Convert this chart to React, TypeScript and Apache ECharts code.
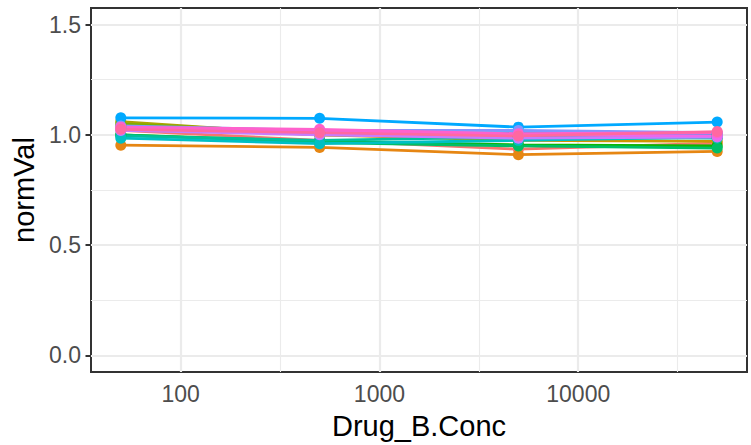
import { useEffect, useRef } from 'react';
import * as echarts from 'echarts';

// Drug_B concentrations (x, log10 scale)
const concentrations = [50, 500, 5000, 50000];

// ggplot hue palette, 16 groups
const groupNames = ['1','2','3','4','5','6','7','8','9','10','11','12','13','14','15','16'];
const groupColors = [
  '#F8766D', '#E68613', '#CD9600', '#ABA300', '#7CAE00', '#0CB702', '#00BE67', '#00C19A',
  '#00BFC4', '#00B8E7', '#00A9FF', '#8494FF', '#C77CFF', '#ED68ED', '#FF61CC', '#FF68A1',
];

// normVal per group at each concentration
const g01 = [1.020, 0.975, 0.935, 0.962];
const g02 = [0.953, 0.943, 0.910, 0.925];
const g03 = [1.040, 1.000, 0.975, 0.970];
const g04 = [1.060, 1.000, 0.990, 1.000];
const g05 = [1.050, 1.010, 0.980, 0.990];
const g06 = [1.000, 0.970, 0.955, 0.950];
const g07 = [1.000, 0.965, 0.950, 0.940];
const g08 = [0.995, 0.975, 0.990, 0.985];
const g09 = [0.985, 0.960, 0.975, 0.990];
const g10 = [1.030, 1.005, 1.010, 1.005];
const g11 = [1.077, 1.075, 1.035, 1.058];
const g12 = [1.040, 1.020, 1.020, 1.010];
const g13 = [1.020, 1.000, 0.985, 0.990];
const g14 = [1.030, 1.015, 1.000, 0.995];
const g15 = [1.035, 1.025, 1.005, 1.010];
const g16 = [1.025, 1.010, 0.995, 1.015];
const groupValues = [g01, g02, g03, g04, g05, g06, g07, g08, g09, g10, g11, g12, g13, g14, g15, g16];

// axis breaks
const xBreaks = [100, 1000, 10000];
const xMinorBreaks = [316.23, 3162.3, 31622.8];
const yBreaks = [0, 0.5, 1.0, 1.5];
const yMinorBreaks = [0.25, 0.75, 1.25];
const yLimits = [0, 1.5];

export default function App() {
  const ref = useRef<HTMLDivElement>(null);
  useEffect(() => {
    const chart = echarts.init(ref.current!, null, { renderer: 'svg' });
    const lx = (v: number) => Math.log10(v);
    const xlo = lx(concentrations[0]);
    const xhi = lx(concentrations[concentrations.length - 1]);
    const xpad = (xhi - xlo) * 0.05;
    const ypad = (yLimits[1] - yLimits[0]) * 0.05;
    const font = 'Liberation Sans, Arial, sans-serif';
    const gridMajor = { color: '#EBEBEB', width: 2.2, type: 'solid' as const };
    const gridMinor = { color: '#EBEBEB', width: 1.1, type: 'solid' as const };

    const gridLines: any[] = [
      ...xMinorBreaks.map((v) => ({ xAxis: lx(v), lineStyle: gridMinor })),
      ...yMinorBreaks.map((v) => ({ yAxis: v, lineStyle: gridMinor })),
      ...xBreaks.map((v) => ({ xAxis: lx(v), lineStyle: gridMajor })),
      ...yBreaks.map((v) => ({ yAxis: v, lineStyle: gridMajor })),
    ];

    const lineSeries = groupValues.map((vals, i) => ({
      name: groupNames[i],
      type: 'line',
      data: concentrations.map((c, j) => [lx(c), vals[j]]),
      showSymbol: false,
      lineStyle: { color: groupColors[i], width: 2.8 },
      itemStyle: { color: groupColors[i] },
      z: 2,
      silent: true,
    }));
    const pointSeries = groupValues.map((vals, i) => ({
      name: groupNames[i],
      type: 'scatter',
      data: concentrations.map((c, j) => [lx(c), vals[j]]),
      symbolSize: 11,
      itemStyle: { color: groupColors[i], opacity: 1 },
      z: 3,
      silent: true,
    }));

    chart.setOption({
      animation: false,
      backgroundColor: '#FFFFFF',
      textStyle: { fontFamily: font },
      grid: {
        left: 91, right: 4, top: 8, bottom: 73,
        show: true, backgroundColor: '#FFFFFF', borderColor: '#333333', borderWidth: 2,
      },
      xAxis: {
        type: 'value',
        min: xlo - xpad,
        max: xhi + xpad,
        name: 'Drug_B.Conc',
        nameLocation: 'middle',
        nameGap: 39,
        nameTextStyle: { color: '#000000', fontSize: 29, fontFamily: font },
        axisLine: { show: false },
        axisTick: { show: true, length: 5.5, customValues: xBreaks.map(lx), lineStyle: { color: '#333333', width: 2 } },
        axisLabel: {
          customValues: xBreaks.map(lx),
          formatter: (v: number) => String(Math.round(Math.pow(10, v))),
          color: '#4D4D4D', fontSize: 23, margin: 10, fontFamily: font,
        },
        splitLine: { show: false },
      },
      yAxis: {
        type: 'value',
        min: yLimits[0] - ypad,
        max: yLimits[1] + ypad,
        name: 'normVal',
        nameLocation: 'middle',
        nameGap: 53,
        nameTextStyle: { color: '#000000', fontSize: 29, fontFamily: font },
        axisLine: { show: false },
        axisTick: { show: true, length: 5.5, customValues: yBreaks, lineStyle: { color: '#333333', width: 2 } },
        axisLabel: {
          customValues: yBreaks,
          formatter: (v: number) => v.toFixed(1),
          color: '#4D4D4D', fontSize: 23, margin: 10, fontFamily: font,
        },
        splitLine: { show: false },
      },
      series: [
        {
          type: 'line',
          data: [],
          z: 1,
          silent: true,
          markLine: {
            silent: true,
            z: 1,
            symbol: ['none', 'none'],
            label: { show: false },
            data: gridLines,
          },
        },
        ...lineSeries,
        ...pointSeries,
      ],
    });
    return () => chart.dispose();
  }, []);
  return <div ref={ref} style={{ position: 'fixed', left: 0, top: 0, width: 751, height: 445 }} />;
}
